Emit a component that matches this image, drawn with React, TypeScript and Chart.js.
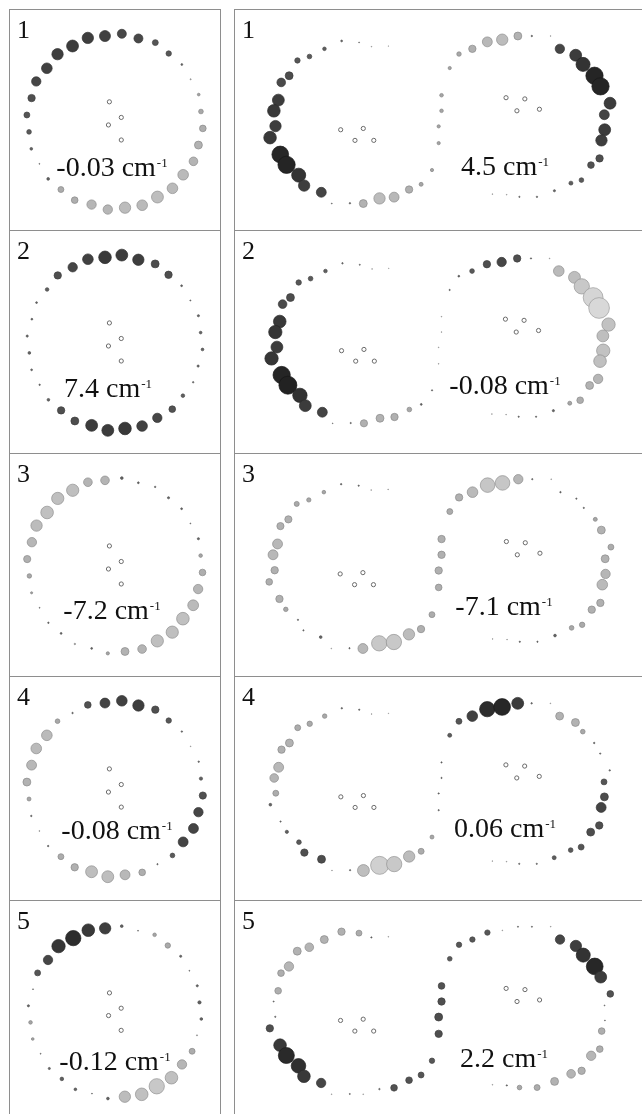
import React, { useEffect, useRef } from "react";
import { Chart, registerables } from "chart.js";
Chart.register(...registerables);

// ---- ring geometry (atom positions, panel-relative px) ----
const LEFT_X = [95.3,113.3,131,149,163.3,177.3,186.7,195.3,197.7,199.7,195,189.7,178.7,167.3,151.3,135,116.7,98.3,81,63,48.3,34.7,25.3,16.7,14.3,12,17,22,33.3,44.7,60.7,77];
const LEFT_Y = [21.7,19.3,24.3,28.7,40.3,52,67.7,84,102,120,137.7,155,169.3,183.7,193,201.7,204.3,206.3,201,196.3,185,173.7,157.7,141.7,123.7,105.7,87.7,70,56,41,32.3,23.7];
const LEFT_HOLLOW_X = [100,112.7,99,112.7];
const LEFT_HOLLOW_Y = [91.7,108.3,116.3,132.3];

const RIGHT_X = [152,134.3,121.3,103,85,69.3,56.7,48,39.7,36.7,32,33.7,28,38.7,45.3,58,63.7,81.7,92.7,111.7,125.7,142.7,158,173.7,186.3,197.7,204.7,204.7,207.7,207.7,216.3,226,240,255.7,271.3,287.7,302.3,322,331.7,348.3,356,368,374.3,384.3,378.3,378.7,375.3,373.3,364.3,354.3,343.3,326,307.7,289.3,276,261];
const RIGHT_Y = [30.3,31,26.3,24.7,33.3,41.7,46,62.7,70,89.3,101,117.7,130.3,148.7,160,171.3,182.7,190,202.3,202,202.3,196.7,195.3,187,181.3,165.7,136.3,118,101,84,54.3,39,33.3,25.7,23.3,19.3,19.3,19.3,33.3,40.3,50.3,62.7,74.3,92.7,105.3,121.7,133.3,153,160.3,176.7,180,188.3,195,195,192.7,192];
const RIGHT_HOLLOW_X = [102,125.7,117,136.7,275.3,295,286.7,310.3];
const RIGHT_HOLLOW_Y = [121.7,120.3,133.3,133.3,86.7,88,101,99.3];

// ---- coefficients (sign = shade, magnitude = size) ----
const LEFT_C1 = [0.61,0.5,0.5,0.33,0.3,0.1,-0.06,-0.15,-0.26,-0.37,-0.44,-0.48,-0.59,-0.59,-0.66,-0.59,-0.63,-0.52,-0.52,-0.37,-0.33,0.15,0.05,0.15,0.26,0.33,0.41,0.52,0.59,0.63,0.66,0.63];
const LEFT_C2 = [0.7,0.66,0.63,0.44,0.41,0.1,0.06,0.12,0.15,0.15,0.12,0.08,0.2,0.37,0.52,0.59,0.7,0.66,0.66,0.44,0.41,0.15,0.08,0.1,0.15,0.12,0.1,0.1,0.2,0.41,0.52,0.59];
const LEFT_C3 = [-0.48,0.15,0.1,0.08,0.12,0.1,0.05,0.12,-0.2,-0.37,-0.52,-0.6,-0.7,-0.68,-0.68,-0.48,-0.44,-0.18,0.1,-0.08,0.1,0.08,0.05,-0.12,-0.25,-0.4,-0.52,-0.63,-0.7,-0.68,-0.68,-0.48];
const LEFT_C4 = [0.55,0.59,0.63,0.41,0.3,0.08,-0.04,0.08,0.18,0.4,0.52,0.55,0.55,0.26,0.07,-0.37,-0.55,-0.66,-0.66,-0.41,-0.33,0.08,-0.05,0.08,-0.22,-0.44,-0.55,-0.59,-0.59,-0.26,0.08,0.37];
const LEFT_C5 = [0.63,0.15,0.05,-0.2,-0.3,0.12,0.05,0.12,0.18,0.15,-0.06,-0.33,-0.52,-0.7,-0.85,-0.7,-0.63,0.15,0.05,0.15,0.2,0.12,0.05,-0.15,-0.2,0.12,0.05,0.33,0.52,0.74,0.85,0.7];

const RIGHT_C1 = [-0.03,-0.04,0.05,0.1,0.2,0.26,0.3,0.44,0.48,0.66,0.7,0.63,0.7,0.93,0.96,0.78,0.63,0.55,0.05,0.08,-0.44,-0.63,-0.55,-0.41,-0.22,-0.18,-0.18,-0.18,-0.2,-0.2,-0.18,-0.25,-0.41,-0.55,-0.63,-0.44,0.08,-0.04,0.52,0.66,0.78,0.96,0.96,0.66,0.55,0.66,0.63,0.41,0.37,0.26,0.22,0.12,0.08,0.07,-0.04,-0.04];
const RIGHT_C2 = [-0.03,-0.04,0.06,0.08,0.2,0.26,0.3,0.44,0.48,0.7,0.74,0.66,0.74,0.96,1.0,0.8,0.66,0.55,0.04,0.07,-0.4,-0.44,-0.41,-0.26,0.1,0.07,-0.04,-0.04,-0.04,-0.04,0.07,0.1,0.26,0.41,0.52,0.41,0.07,-0.04,-0.59,-0.66,-0.85,-1.1,-1.15,-0.74,-0.66,-0.74,-0.7,-0.52,-0.44,-0.37,-0.22,0.12,0.07,0.07,-0.04,-0.04];
const RIGHT_C3 = [-0.04,-0.04,0.07,0.08,-0.2,-0.24,-0.28,-0.4,-0.4,-0.55,-0.55,-0.41,-0.37,-0.41,-0.25,0.07,0.07,0.15,-0.04,0.07,-0.55,-0.85,-0.85,-0.63,-0.41,-0.33,-0.37,-0.41,-0.41,-0.41,-0.33,-0.41,-0.59,-0.81,-0.81,-0.52,0.07,-0.04,0.08,0.07,0.07,-0.22,-0.44,-0.33,-0.44,-0.52,-0.59,-0.41,-0.41,-0.3,-0.26,0.15,0.07,0.07,-0.04,-0.04];
const RIGHT_C4 = [-0.03,-0.04,0.07,0.08,-0.25,-0.3,-0.33,-0.44,-0.41,-0.55,-0.48,-0.33,0.15,0.07,0.18,0.26,0.41,0.44,-0.04,0.07,-0.66,-1.0,-0.85,-0.63,-0.33,-0.22,0.07,0.07,0.07,0.07,0.22,0.33,0.59,0.85,0.93,0.66,0.08,-0.04,-0.44,-0.44,-0.26,0.08,0.07,0.08,0.33,0.44,0.55,0.41,0.44,0.33,0.26,0.22,0.07,0.07,-0.04,-0.04];
const RIGHT_C5 = [-0.04,0.07,-0.33,-0.41,-0.44,-0.48,-0.44,-0.52,-0.37,-0.37,0.06,0.07,0.41,0.7,0.89,0.81,0.7,0.52,-0.04,0.06,-0.04,0.08,0.37,0.37,0.33,0.3,0.41,0.44,0.41,0.37,0.26,0.3,0.3,0.3,-0.04,0.06,0.06,-0.04,0.52,0.63,0.78,0.93,0.66,0.37,0.05,0.05,-0.37,-0.37,-0.52,-0.41,-0.48,-0.44,-0.33,-0.26,0.07,-0.04];

// ---- labels ----
const PANEL_NUMBERS = ["1", "2", "3", "4", "5"];
const LEFT_ENERGIES = ["-0.03", "7.4", "-7.2", "-0.08", "-0.12"];
const RIGHT_ENERGIES = ["4.5", "-0.08", "-7.1", "0.06", "2.2"];

// ---- layout (not data) ----
const ROW_TOPS = [9, 230, 453, 676, 900];
const PAGE_H = 1114;
const LEFT_X0 = 9;
const LEFT_W = 212;
const RIGHT_X0 = 234;
const RIGHT_W = 408;
const LEFT_TEXT_CX = [103, 99, 103, 108, 106];
const LEFT_TEXT_BASE = [167, 167, 166, 163, 170];
const RIGHT_TEXT_CX = [271, 271, 270, 271, 270];
const RIGHT_TEXT_BASE = [166, 164, 162, 161, 167];
const R_SCALE = 9;
const SERIF = '"Liberation Serif", "Times New Roman", serif';

function grey(l: number) {
  const v = Math.max(0, Math.min(255, Math.round(l)));
  return `rgb(${v},${v},${v})`;
}
function fillFor(c: number) {
  const a = Math.min(Math.abs(c), 1.15);
  return c >= 0 ? grey(0x6e - a * 0x4c) : grey(0x9a + a * 0x36);
}
function edgeFor(c: number) {
  const a = Math.min(Math.abs(c), 1.15);
  return c >= 0 ? grey(0x5a - a * 0x45) : grey(0x80 + a * 0x18);
}

type RingProps = {
  width: number; height: number;
  xs: number[]; ys: number[]; hx: number[]; hy: number[]; coefs: number[];
};

function RingChart({ width, height, xs, ys, hx, hy, coefs }: RingProps) {
  const ref = useRef<HTMLCanvasElement>(null);
  useEffect(() => {
    const chart = new Chart(ref.current as HTMLCanvasElement, {
      type: "bubble",
      data: {
        datasets: [
          {
            data: xs.map((x, i) => ({ x, y: ys[i], r: Math.abs(coefs[i]) * R_SCALE })),
            backgroundColor: coefs.map(fillFor),
            borderColor: coefs.map(edgeFor),
            borderWidth: 0.7,
            clip: false,
          } as any,
          {
            data: hx.map((x, i) => ({ x, y: hy[i], r: 2.1 })),
            backgroundColor: "#ffffff",
            borderColor: "#6a6a6a",
            borderWidth: 1,
            clip: false,
          } as any,
        ],
      },
      options: {
        animation: false,
        responsive: false,
        devicePixelRatio: 1,
        events: [],
        layout: { padding: 0 },
        plugins: { legend: { display: false }, tooltip: { enabled: false } },
        scales: {
          x: { type: "linear", min: 0, max: width, display: false },
          y: { type: "linear", min: 0, max: height, reverse: true, display: false },
        },
      },
    });
    return () => chart.destroy();
  }, []);
  return (
    <canvas
      ref={ref}
      width={width}
      height={height}
      style={{ position: "absolute", left: 0, top: 0, width, height }}
    />
  );
}

type PanelProps = {
  left: number; top: number; width: number; height: number;
  rightBorder: boolean; num: string; energy: string; cx: number; base: number;
  xs: number[]; ys: number[]; hx: number[]; hy: number[]; coefs: number[];
};

function Panel(p: PanelProps) {
  return (
    <div style={{ position: "absolute", left: p.left, top: p.top, width: p.width, height: p.height }}>
      <div
        style={{
          position: "absolute", left: 0, top: 0, width: p.width, height: p.height,
          boxSizing: "border-box",
          borderTop: "1px solid #8e8e8e",
          borderLeft: "1px solid #8e8e8e",
          borderRight: p.rightBorder ? "1px solid #8e8e8e" : "none",
        }}
      />
      <RingChart width={p.width} height={p.height} xs={p.xs} ys={p.ys} hx={p.hx} hy={p.hy} coefs={p.coefs} />
      <div
        style={{
          position: "absolute", left: 8, top: 31 - 22.6, fontFamily: SERIF,
          fontSize: 26, lineHeight: 1, color: "#111", whiteSpace: "nowrap",
        }}
      >
        {p.num}
      </div>
      <div
        style={{
          position: "absolute", left: p.cx, top: p.base - 23.45, transform: "translateX(-50%)",
          fontFamily: SERIF, fontSize: 28, lineHeight: 1, color: "#111", whiteSpace: "nowrap",
        }}
      >
        {p.energy} cm
        <span style={{ fontSize: 13, position: "relative", top: -9, marginLeft: 1 }}>-1</span>
      </div>
    </div>
  );
}

const LEFT_COEFS = [LEFT_C1, LEFT_C2, LEFT_C3, LEFT_C4, LEFT_C5];
const RIGHT_COEFS = [RIGHT_C1, RIGHT_C2, RIGHT_C3, RIGHT_C4, RIGHT_C5];

export default function App() {
  return (
    <div style={{ position: "absolute", left: 0, top: 0, width: 642, height: PAGE_H, overflow: "hidden", background: "#fff" }}>
      {ROW_TOPS.map((top, i) => {
        const h = (i < ROW_TOPS.length - 1 ? ROW_TOPS[i + 1] : PAGE_H) - top;
        return (
          <React.Fragment key={i}>
            <Panel
              left={LEFT_X0} top={top} width={LEFT_W} height={h} rightBorder={true}
              num={PANEL_NUMBERS[i]} energy={LEFT_ENERGIES[i]} cx={LEFT_TEXT_CX[i]} base={LEFT_TEXT_BASE[i]}
              xs={LEFT_X} ys={LEFT_Y} hx={LEFT_HOLLOW_X} hy={LEFT_HOLLOW_Y} coefs={LEFT_COEFS[i]}
            />
            <Panel
              left={RIGHT_X0} top={top} width={RIGHT_W} height={h} rightBorder={false}
              num={PANEL_NUMBERS[i]} energy={RIGHT_ENERGIES[i]} cx={RIGHT_TEXT_CX[i]} base={RIGHT_TEXT_BASE[i]}
              xs={RIGHT_X} ys={RIGHT_Y} hx={RIGHT_HOLLOW_X} hy={RIGHT_HOLLOW_Y} coefs={RIGHT_COEFS[i]}
            />
          </React.Fragment>
        );
      })}
    </div>
  );
}
